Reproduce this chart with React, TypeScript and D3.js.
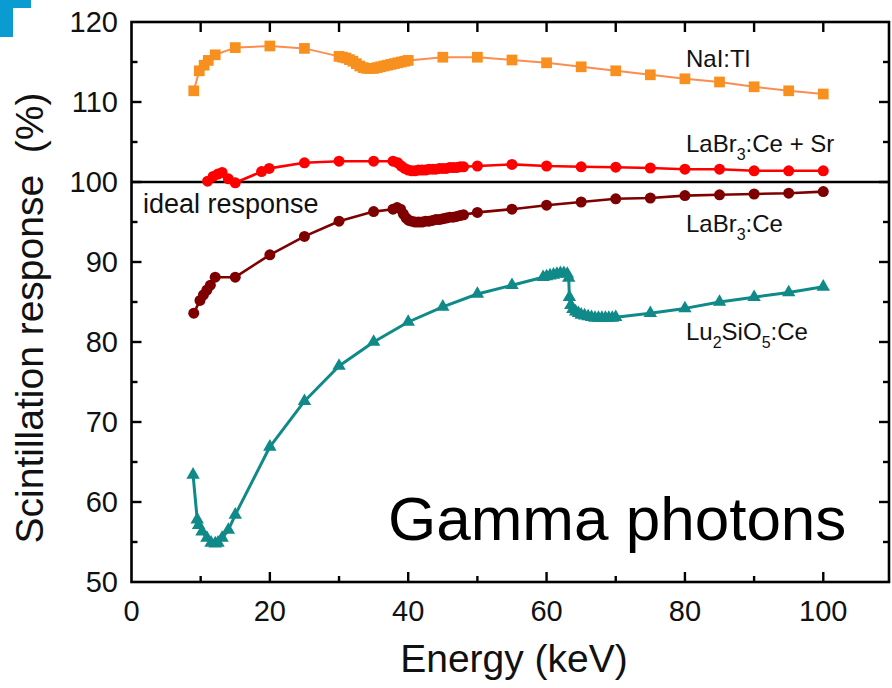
import React from "react";
import * as d3 from "d3";

// NaI:Tl response (orange squares)
const naiEnergy = [9, 9.8, 10.5, 11.1, 12.1, 15, 20, 25, 30, 30.5, 31, 31.5, 32, 32.5, 33, 33.5, 34, 34.5, 35, 35.5, 36, 36.5, 37, 37.5, 38, 38.5, 39, 39.5, 40, 45, 50, 55, 60, 65, 70, 75, 80, 85, 90, 95, 100];
const naiResp = [111.4, 113.9, 114.6, 115.2, 115.9, 116.8, 117.0, 116.7, 115.7, 115.6, 115.5, 115.3, 115.1, 114.8, 114.5, 114.3, 114.2, 114.2, 114.2, 114.3, 114.4, 114.5, 114.6, 114.7, 114.8, 114.9, 115.0, 115.1, 115.2, 115.6, 115.6, 115.25, 114.9, 114.4, 113.9, 113.4, 112.9, 112.5, 111.9, 111.4, 111.0];

// LaBr3:Ce + Sr response (red circles)
const srEnergy = [11, 11.8, 12.5, 13.1, 14, 15, 18.8, 19.9, 25, 30, 35, 37.8, 38.5, 39, 39.5, 40, 40.5, 41, 41.5, 42, 42.5, 43, 43.5, 44, 44.5, 45, 45.5, 46, 46.5, 47, 47.5, 48, 50, 55, 60, 65, 70, 75, 80, 85, 90, 95, 100];
const srResp = [100.1, 100.7, 101.0, 101.2, 100.4, 99.9, 101.3, 101.7, 102.4, 102.6, 102.6, 102.6, 102.4, 102.0, 101.7, 101.5, 101.4, 101.4, 101.5, 101.5, 101.5, 101.6, 101.6, 101.6, 101.7, 101.7, 101.7, 101.8, 101.8, 101.8, 101.9, 101.9, 102.0, 102.2, 102.0, 101.9, 101.85, 101.75, 101.6, 101.6, 101.4, 101.4, 101.4];

// LaBr3:Ce response (dark red circles)
const labrEnergy = [9, 9.9, 10.4, 10.9, 11.4, 12.1, 15, 20, 25, 30, 35, 37.8, 38.4, 38.9, 39.3, 39.7, 40.1, 40.5, 41, 41.5, 42, 42.5, 43, 43.5, 44, 44.5, 45, 45.5, 46, 46.5, 47, 47.5, 48, 50, 55, 60, 65, 70, 75, 80, 85, 90, 95, 100];
const labrResp = [83.6, 85.2, 85.9, 86.5, 87.1, 88.1, 88.1, 90.9, 93.2, 95.1, 96.3, 96.6, 96.8, 96.6, 96.0, 95.5, 95.2, 95.1, 95.0, 95.0, 95.0, 95.1, 95.1, 95.2, 95.3, 95.3, 95.4, 95.5, 95.6, 95.6, 95.7, 95.8, 95.9, 96.2, 96.6, 97.1, 97.5, 97.9, 98.0, 98.3, 98.4, 98.5, 98.6, 98.8];

// Lu2SiO5:Ce response (teal triangles)
const lsoEnergy = [8.9, 9.5, 9.7, 10.2, 10.9, 11.5, 12.1, 12.5, 13.1, 14, 15, 20, 25, 30, 35, 40, 45, 50, 55, 59.5, 60, 60.5, 61, 61.5, 62, 62.5, 63, 63.2, 63.3, 63.5, 63.8, 64.2, 64.6, 65, 65.5, 66, 66.5, 67, 67.5, 68, 68.5, 69, 69.5, 70, 75, 80, 85, 90, 95, 100];
const lsoResp = [63.4, 57.8, 57.1, 56.3, 55.5, 54.9, 54.8, 54.9, 55.5, 56.5, 58.4, 66.9, 72.6, 77.0, 80.0, 82.5, 84.4, 86.0, 87.1, 88.1, 88.2, 88.3, 88.4, 88.5, 88.6, 88.6, 88.5, 88.0, 85.6, 84.6, 84.1, 83.8, 83.6, 83.4, 83.3, 83.2, 83.1, 83.0, 83.0, 83.0, 83.0, 83.0, 83.0, 83.1, 83.6, 84.2, 85.0, 85.6, 86.2, 86.9];

const xTickLabels = [0, 20, 40, 60, 80, 100];
const yTickLabels = [50, 60, 70, 80, 90, 100, 110, 120];
const idealResponse = 100;

const FONT = "Arial, 'Liberation Sans', Helvetica, sans-serif";

type Series = {
  energy: number[];
  resp: number[];
  line: string;
  fill: string;
  width: number;
  symbol: d3.SymbolType;
  size: number;
};

const series: Series[] = [
  { energy: naiEnergy, resp: naiResp, line: "#FB8E4E", fill: "#F7901E", width: 2, symbol: d3.symbolSquare, size: 115 },
  { energy: srEnergy, resp: srResp, line: "#FF0000", fill: "#FF0000", width: 2.6, symbol: d3.symbolCircle, size: 95 },
  { energy: labrEnergy, resp: labrResp, line: "#7E0000", fill: "#7E0000", width: 2.6, symbol: d3.symbolCircle, size: 95 },
  { energy: lsoEnergy, resp: lsoResp, line: "#0F8A88", fill: "#0F8A88", width: 3, symbol: d3.symbolTriangle, size: 78 },
];

export default function App() {
  const W = 892;
  const H = 688;
  const x = d3.scaleLinear().domain([0, 109.5]).range([131.5, 889]);
  const y = d3.scaleLinear().domain([50, 120]).range([582, 22]);
  const [x0, x1] = x.range();
  const [yb, yt] = y.range();

  const xMinor = d3.range(10, 109, 10).filter((v) => v % 20 !== 0);
  const xMajor = d3.range(20, 109, 20);
  const yMinor = d3.range(55, 120, 10);
  const yMajor = d3.range(60, 120, 10);
  const majLen = 10;
  const minLen = 6;

  const line = (s: Series) =>
    d3
      .line<number>()
      .x((_, i) => x(s.energy[i]))
      .y((v) => y(v))(s.resp) || "";

  return (
    <svg
      width={W}
      height={H}
      viewBox={`0 0 ${W} ${H}`}
      style={{ position: "absolute", left: 0, top: 0, background: "#fff", fontFamily: FONT }}
    >
      <rect x={0} y={0} width={W} height={H} fill="#fff" />
      {/* corner mark */}
      <path d="M0,0H31V8H13V37H0Z" fill="#0A9BD0" />

      {/* ideal response line */}
      <line x1={x0} x2={x1} y1={y(idealResponse)} y2={y(idealResponse)} stroke="#000" strokeWidth={2.6} />

      {/* series */}
      {series.map((s, k) => (
        <g key={k}>
          <path d={line(s)} fill="none" stroke={s.line} strokeWidth={s.width} strokeLinejoin="round" />
          {s.resp.map((v, i) => (
            <path
              key={i}
              d={d3.symbol().type(s.symbol).size(s.size)() || ""}
              transform={`translate(${x(s.energy[i])},${y(v)})`}
              fill={s.fill}
            />
          ))}
        </g>
      ))}

      {/* frame */}
      <rect x={x0} y={yt} width={x1 - x0} height={yb - yt} fill="none" stroke="#000" strokeWidth={2.6} />

      {/* x ticks, bottom and top */}
      {xMajor.map((v) => (
        <g key={`xM${v}`} stroke="#000" strokeWidth={2.4}>
          <line x1={x(v)} x2={x(v)} y1={yb} y2={yb - majLen} />
          <line x1={x(v)} x2={x(v)} y1={yt} y2={yt + majLen} />
        </g>
      ))}
      {xMinor.map((v) => (
        <g key={`xm${v}`} stroke="#000" strokeWidth={2.4}>
          <line x1={x(v)} x2={x(v)} y1={yb} y2={yb - minLen} />
          <line x1={x(v)} x2={x(v)} y1={yt} y2={yt + majLen} />
        </g>
      ))}
      {/* y ticks, left and right */}
      {yMajor.map((v) => (
        <g key={`yM${v}`} stroke="#000" strokeWidth={2.4}>
          <line x1={x0} x2={x0 + majLen} y1={y(v)} y2={y(v)} />
          <line x1={x1} x2={x1 - majLen} y1={y(v)} y2={y(v)} />
        </g>
      ))}
      {yMinor.map((v) => (
        <g key={`ym${v}`} stroke="#000" strokeWidth={2.4}>
          <line x1={x0} x2={x0 + minLen} y1={y(v)} y2={y(v)} />
          <line x1={x1} x2={x1 - minLen} y1={y(v)} y2={y(v)} />
        </g>
      ))}

      {/* tick labels */}
      {xTickLabels.map((v) => (
        <text key={`xl${v}`} x={x(v)} y={621} textAnchor="middle" fontSize={29} fill="#111">
          {v}
        </text>
      ))}
      {yTickLabels.map((v) => (
        <text key={`yl${v}`} x={118} y={y(v) + 10} textAnchor="end" fontSize={29} fill="#111">
          {v}
        </text>
      ))}

      {/* axis titles */}
      <text x={514} y={672} textAnchor="middle" fontSize={39} fill="#111">
        Energy (keV)
      </text>
      <text
        transform={`translate(43,318) rotate(-90)`}
        textAnchor="middle"
        fontSize={39}
        fill="#111"
        style={{ whiteSpace: "pre" }}
      >
        {"Scintillation response  (%)"}
      </text>

      {/* series labels */}
      <text x={686} y={67} fontSize={24} fill="#111">NaI:Tl</text>
      <text x={686} y={152} fontSize={24} fill="#111">
        LaBr<tspan fontSize={16} dy={8}>3</tspan>
        <tspan dy={-8}>:Ce + Sr</tspan>
      </text>
      <text x={686} y={232} fontSize={24} fill="#111">
        LaBr<tspan fontSize={16} dy={8}>3</tspan>
        <tspan dy={-8}>:Ce</tspan>
      </text>
      <text x={686} y={340} fontSize={24} fill="#111">
        Lu<tspan fontSize={16} dy={8}>2</tspan>
        <tspan dy={-8}>SiO</tspan>
        <tspan fontSize={16} dy={8}>5</tspan>
        <tspan dy={-8}>:Ce</tspan>
      </text>
      <text x={143} y={213} fontSize={27} fill="#111">ideal response</text>

      {/* panel caption */}
      <text x={388} y={540} fontSize={62} fill="#000">Gamma photons</text>
    </svg>
  );
}
